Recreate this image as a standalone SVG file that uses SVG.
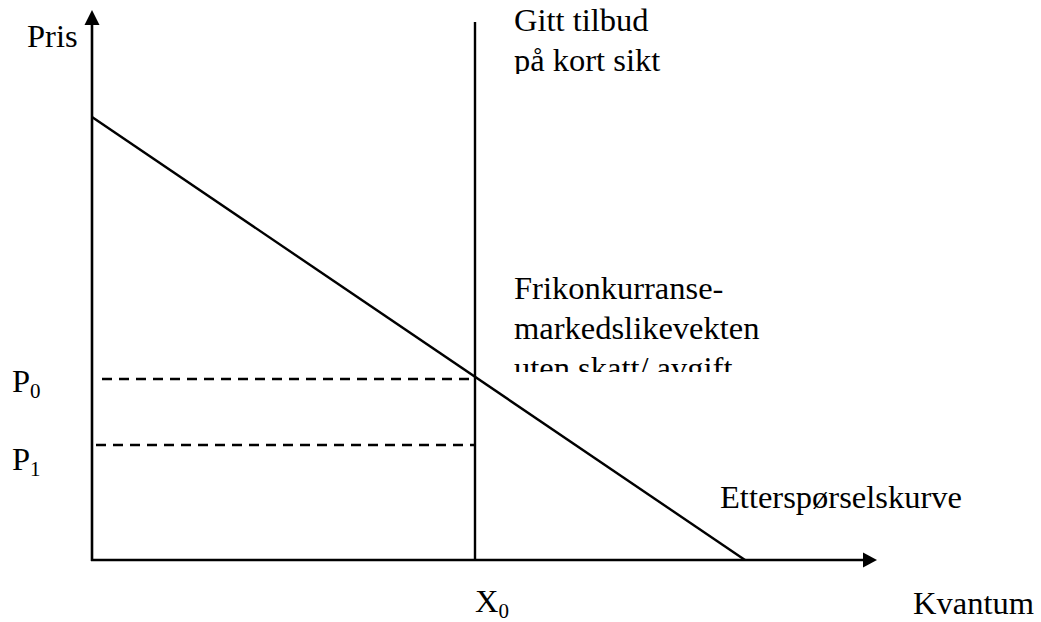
<svg xmlns="http://www.w3.org/2000/svg" width="1041" height="622" viewBox="0 0 1041 622" font-family="'Liberation Serif', 'Times New Roman', serif">
<style>
.ax{stroke:#000;stroke-width:2.6;fill:none}
.ln{stroke:#000;stroke-width:2.4;fill:none}
.ds{stroke:#000;stroke-width:2.4;fill:none;stroke-dasharray:10 7}
.t{font-family:'Liberation Serif','Times New Roman',serif;font-size:32.5px;fill:#000}
.sub{font-size:21px}
</style>
<defs>
<clipPath id="c1"><rect x="500" y="0" width="200" height="74"/></clipPath>
<clipPath id="c2"><rect x="500" y="260" width="300" height="112"/></clipPath>
</defs>
<g id="connectors">
<line class="ax" x1="92" y1="561" x2="92" y2="24"/>
<polygon points="92,10 84.5,25 99.5,25" fill="#000"/>
<line class="ax" x1="91" y1="560" x2="864" y2="560"/>
<polygon points="877,560 863,552.5 863,567.5" fill="#000"/>
<line class="ln" x1="92" y1="117" x2="745" y2="560"/>
<line class="ln" x1="475" y1="22" x2="475" y2="560"/>
<line class="ds" x1="102" y1="379" x2="475" y2="379"/>
<line class="ds" x1="96" y1="445" x2="475" y2="445"/>
</g>
<g id="label-pris"><text class="t" x="27" y="47">Pris</text></g>
<g id="label-supply" clip-path="url(#c1)"><text class="t" x="514" y="31">Gitt tilbud</text><text class="t" x="514" y="71">på kort sikt</text></g>
<g id="label-eq" clip-path="url(#c2)"><text class="t" x="514" y="299">Frikonkurranse-</text><text class="t" x="514" y="339">markedslikevekten</text><text class="t" x="514" y="379">uten skatt/ avgift</text></g>
<g id="label-p0"><text class="t" x="12" y="392">P<tspan class="sub" dy="6">0</tspan></text></g>
<g id="label-p1"><text class="t" x="12" y="470">P<tspan class="sub" dy="6">1</tspan></text></g>
<g id="label-demand"><text class="t" x="720" y="508">Etterspørselskurve</text></g>
<g id="label-x0"><text class="t" x="475" y="612">X<tspan class="sub" dy="6">0</tspan></text></g>
<g id="label-kvantum"><text class="t" x="913" y="614">Kvantum</text></g>
</svg>
